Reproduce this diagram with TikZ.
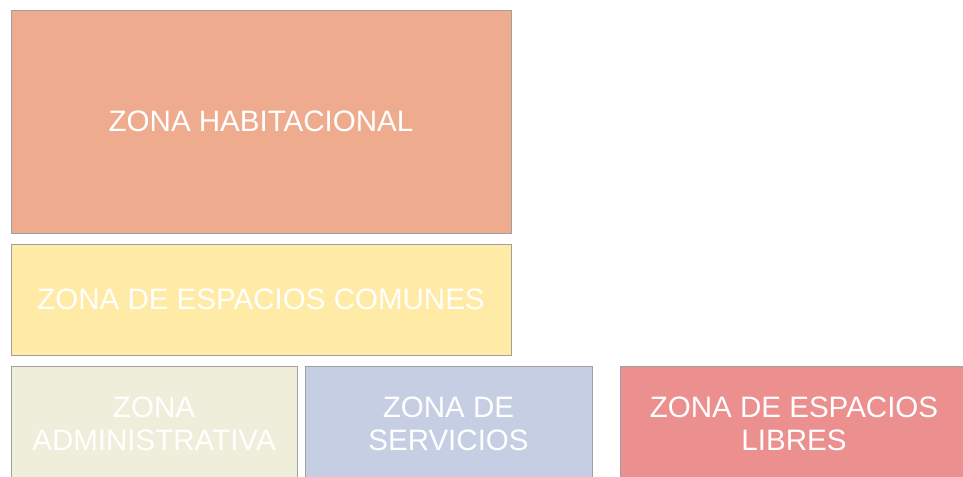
\documentclass[tikz,border=0pt]{standalone}
\usepackage{fontspec}
\setmainfont{Liberation Sans}
\usetikzlibrary{shadows}
\definecolor{habit}{HTML}{EEAB8E}
\definecolor{comun}{HTML}{FFEBA6}
\definecolor{admin}{HTML}{EFEEDB}
\definecolor{servi}{HTML}{C6CEE4}
\definecolor{libre}{HTML}{EB8F8F}
\definecolor{borde}{HTML}{A0A0A0}
\begin{document}
\begin{tikzpicture}[
        x=0.025cm, y=-0.025cm,
        zona/.style={rectangle, draw=borde, line width=0.6pt, text=white, align=center,
            font=\fontsize{21}{23.5}\selectfont, inner sep=0pt,
            drop shadow={shadow xshift=0.8pt, shadow yshift=-0.8pt, fill=black!30}},
        rotulo/.style={text=white, align=center, font=\fontsize{21}{23.5}\selectfont, inner sep=0pt}
    ]
        % marco
        \useasboundingbox (0,0) rectangle (963,477);
        \clip (0,0) rectangle (963,477);
        
        % zonas
        \node[zona, fill=habit, minimum width=12.5cm, minimum height=5.575cm] at (261,121.5) (hab) {ZONA HABITACIONAL};
        \node[zona, fill=comun, minimum width=12.5cm, minimum height=2.775cm] at (261,299.5) (com) {ZONA DE ESPACIOS COMUNES};
        \node[zona, fill=admin, minimum width=7.15cm, minimum height=2.9cm] at (154,424) (adm) {ZONA\\ADMINISTRATIVA};
        \node[zona, fill=servi, minimum width=7.175cm, minimum height=2.9cm] at (448.5,424) (ser) {ZONA DE\\SERVICIOS};
        \node[zona, fill=libre, anchor=west, minimum width=9.5cm, minimum height=2.9cm] at (620,424) (lib) {};
        \node[rotulo] at (794,424) (libtxt) {ZONA DE ESPACIOS\\LIBRES};
    \end{tikzpicture}
\end{document}
